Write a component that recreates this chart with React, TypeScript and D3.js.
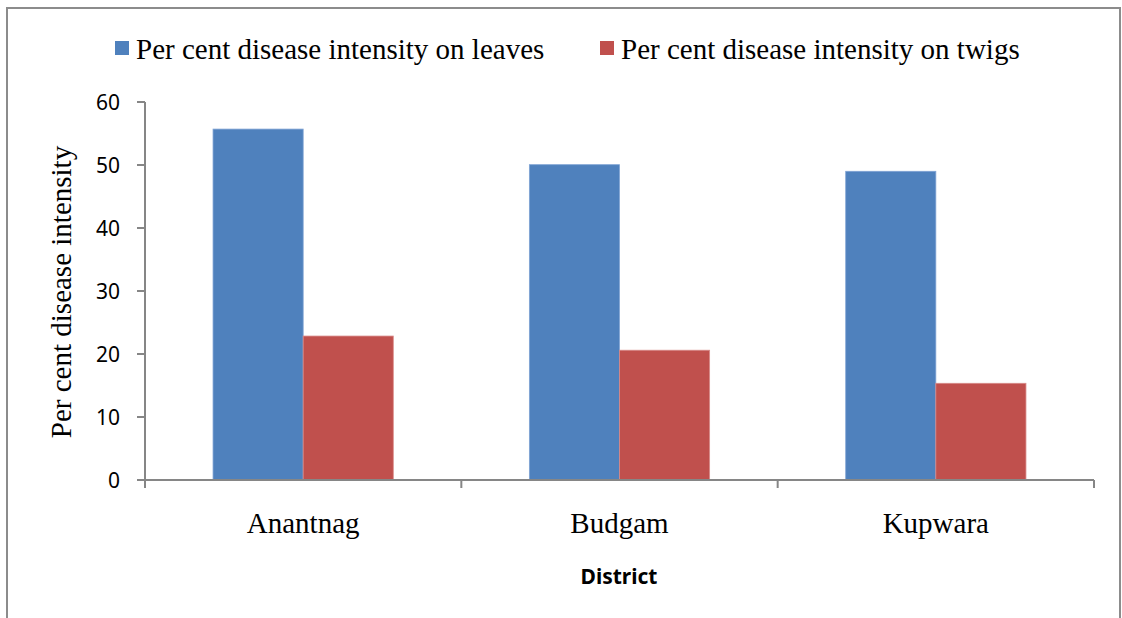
import React from "react";
import * as d3 from "d3";

const categories = ["Anantnag", "Budgam", "Kupwara"];
const seriesNames = ["Per cent disease intensity on leaves", "Per cent disease intensity on twigs"];
const leaves = [55.7, 50.05, 49.0];
const twigs = [22.85, 20.6, 15.35];
const yTicks = [0, 10, 20, 30, 40, 50, 60];
const colors = ["#4F81BD", "#C0504D"];

export default function App() {
  const W = 1122, H = 618;
  const x0 = 145, x1 = 1094;
  const y = d3.scaleLinear().domain([0, 60]).range([480, 102]);
  const xb = d3.scaleBand().domain(categories).range([x0, x1]).paddingInner(0).paddingOuter(0);
  const inner = d3.scaleBand().domain(["0", "1"]).range([0, xb.bandwidth()]).paddingOuter(0.755).paddingInner(0);
  const series = [leaves, twigs];
  const serif = "'Liberation Serif', 'Times New Roman', serif";
  const sans = "'Noto Sans', 'Open Sans', sans-serif";
  return (
    <svg width={W} height={H} style={{ position: "absolute", left: 0, top: 0 }} xmlns="http://www.w3.org/2000/svg">
      <rect x={0} y={0} width={W} height={H} fill="#fff" />
      <rect x={7} y={8} width={1113} height={700} fill="#fff" stroke="#8c8c8c" strokeWidth={2} />
      {/* legend */}
      {seriesNames.map((n, i) => {
        const lx = i === 0 ? 115 : 600;
        return (
          <g key={n}>
            <rect x={lx} y={41} width={14} height={14} fill={colors[i]} />
            <text x={lx + 21} y={59} fontFamily={serif} fontSize={29} fill="#000">{n}</text>
          </g>
        );
      })}
      {/* bars */}
      {categories.map((c, ci) =>
        series.map((s, si) => (
          <rect
            key={c + si}
            x={(xb(c) as number) + (inner(String(si)) as number)}
            y={y(s[ci])}
            width={inner.bandwidth()}
            height={y(0) - y(s[ci])}
            fill={colors[si]}
            stroke={si === 0 ? "#7fa3d4" : "#d98b89"}
            strokeWidth={0.8}
          />
        ))
      )}
      {/* y axis */}
      <line x1={x0} x2={x0} y1={y(60)} y2={y(0)} stroke="#868686" strokeWidth={2} />
      {yTicks.map((t) => (
        <g key={t}>
          <line x1={x0 - 8} x2={x0} y1={y(t)} y2={y(t)} stroke="#868686" strokeWidth={2} />
          <text x={120} y={y(t)} dy="0.36em" textAnchor="end" fontFamily={sans} fontSize={21} fill="#000">{t}</text>
        </g>
      ))}
      {/* x axis */}
      <line x1={x0 - 8} x2={x1} y1={y(0)} y2={y(0)} stroke="#868686" strokeWidth={2} />
      {[...categories.map((c) => xb(c) as number), x1].map((xx, i) => (
        <line key={i} x1={xx} x2={xx} y1={y(0)} y2={y(0) + 8} stroke="#868686" strokeWidth={2} />
      ))}
      {categories.map((c) => (
        <text key={c} x={(xb(c) as number) + xb.bandwidth() / 2} y={533} textAnchor="middle" fontFamily={serif} fontSize={29} fill="#000">{c}</text>
      ))}
      <text x={619} y={584} textAnchor="middle" fontFamily={sans} fontWeight="bold" fontSize={21} fill="#000">District</text>
      <text transform={`translate(71,${292}) rotate(-90)`} textAnchor="middle" fontFamily={serif} fontSize={29} fill="#000">Per cent disease intensity</text>
    </svg>
  );
}
